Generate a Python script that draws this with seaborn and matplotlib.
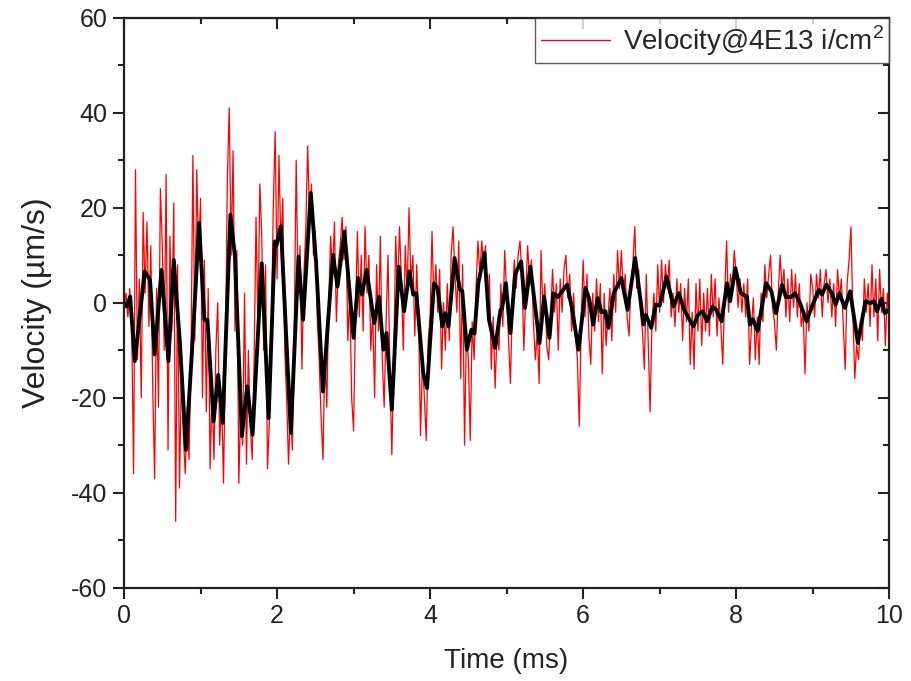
import numpy as np
import pandas as pd
import matplotlib
matplotlib.use("Agg")
import matplotlib.pyplot as plt
import seaborn as sns
from matplotlib.ticker import MultipleLocator

# Raw velocity trace, sampled every 0.025 ms from 0 to 10 ms (um/s)
raw_velocity = [
    -1, 2, -3, 3, -5, -36, 28, -12, 5, -20, 19, 2, 17, -5, 12, -18, -37, 3, -22, 24,
    12, -10, 27, -31, 14, -6, 21, -46, 8, -39, -14, -28, -36, -22, -33, -12, 31, -8, 28, 10,
    22, -20, 9, -23, 3, -35, -18, -33, -10, 0, -30, -20, -38, -12, 26, 41, 10, 32, -6, 11,
    -38, -22, -30, 2, -34, -10, -26, -33, -12, 18, -5, 25, 14, -10, 8, -35, -25, -8, 20, 36,
    5, 31, 12, 22, -10, -20, -34, -22, -31, -5, 30, 2, 12, -14, 6, 15, 33, 18, 25, 10,
    15, -3, -12, -24, -33, -10, -22, 0, 14, 6, 17, -4, 8, 12, 18, 9, 16, -8, 2, -20,
    -27, -2, 15, -3, 10, -6, 16, 2, 10, -10, -2, -20, 8, -6, 14, -12, -22, -4, 10, -15,
    -32, -12, 14, 2, 16, 5, -10, 12, 2, 20, 4, 10, -7, 8, -4, -28, -12, -20, -29, -8,
    -3, 15, 0, 8, -2, 7, -14, 0, -10, 4, -8, 10, 16, 6, -2, 13, -16, 8, -30, -6,
    -12, -29, -4, -12, 3, 13, 6, 13, 8, 12, -2, 6, -14, -3, -18, -6, -10, 4, -5, 11,
    2, -8, -17, 0, 9, 3, 10, 13, 6, -10, 2, 12, 5, 9, -4, -12, -6, -17, 11, -2,
    4, -9, -12, -3, 7, -2, 4, -10, 5, -2, 7, 10, 1, 6, -6, 2, -7, -12, -26, -4,
    9, -3, 6, -7, -13, 2, -6, 5, -4, 4, -15, 2, -9, -3, 3, -8, 6, -2, 11, 3,
    11, 2, 6, -3, -7, 4, 8, 16, 3, 7, -2, -6, -14, 6, -8, -23, -4, 2, -6, 8,
    -2, 9, 0, 8, 3, 9, -3, 2, -5, 5, -2, 4, -8, 3, -4, 5, -13, -2, -14, 4,
    -6, 5, -9, 2, -6, 3, -7, 6, -3, 5, -7, 1, -5, -13, 2, 13, -2, 6, 3, 11,
    6, -1, 5, -2, 4, -3, 5, -13, -5, 1, -12, -3, -13, 2, -4, 8, 1, 6, 10, -1,
    -4, -10, 2, 10, 3, 7, -3, 5, -4, 7, -1, 6, -3, 4, -5, -2, -15, 0, -6, 6,
    3, -3, 6, 1, 7, -3, 4, 7, 0, 5, -3, 4, -5, 7, 1, 5, -5, -14, 4, 9,
    16, -2, -16, -9, -12, -4, -8, 5, -2, 4, -5, 8, -3, 5, -8, 7, -2, 3, -9, 2, -4,
]
raw_time = np.arange(len(raw_velocity)) * 0.025

# Smoothed velocity trace (ms, um/s)
smooth_time = [
    0.00, 0.035, 0.08, 0.14, 0.27, 0.34, 0.40, 0.49, 0.58, 0.65, 0.73, 0.81, 0.91, 0.98,
    1.05, 1.09, 1.17, 1.23, 1.29, 1.39, 1.45, 1.54, 1.61, 1.68, 1.80, 1.89, 1.97, 1.99,
    2.05, 2.18, 2.28, 2.34, 2.44, 2.51, 2.60, 2.73, 2.79, 2.88, 3.00, 3.06, 3.11, 3.17,
    3.27, 3.33, 3.39, 3.43, 3.50, 3.59, 3.66, 3.73, 3.78, 3.82, 3.91, 3.96, 4.05, 4.10,
    4.16, 4.20, 4.24, 4.32, 4.39, 4.42, 4.48, 4.54, 4.58, 4.63, 4.71, 4.77, 4.85, 4.92,
    4.94, 4.99, 5.05, 5.11, 5.14, 5.19, 5.24, 5.31, 5.43, 5.49, 5.56, 5.61, 5.67, 5.79,
    5.85, 5.94, 6.03, 6.08, 6.13, 6.19, 6.24, 6.29, 6.33, 6.40, 6.50, 6.58, 6.68, 6.79,
    6.82, 6.89, 6.95, 7.00, 7.09, 7.18, 7.25, 7.32, 7.44, 7.50, 7.56, 7.62, 7.69, 7.74,
    7.81, 7.88, 7.92, 7.99, 8.06, 8.14, 8.18, 8.22, 8.28, 8.39, 8.46, 8.52, 8.60, 8.65,
    8.72, 8.77, 8.83, 8.92, 8.99, 9.08, 9.12, 9.18, 9.25, 9.30, 9.35, 9.42, 9.49, 9.59,
    9.69, 9.75, 9.80, 9.84, 9.90, 9.94, 10.00,
]
smooth_velocity = [
    0.0, -0.8, 1.3, -12.3, 6.6, 4.8, -10.9, 6.9, -12.3, 9.0, -8.4, -31.0, -4.2, 16.8,
    -3.6, -3.6, -25.0, -15.2, -25.3, 18.5, 9.7, -28.1, -17.6, -27.8, 8.3, -24.3, 12.9, 12.0,
    16.1, -27.4, 9.7, -3.6, 23.1, 8.4, -18.7, 10.1, 3.4, 15.0, -7.4, 5.2, 1.7, 6.9,
    -4.3, 1.3, -9.9, -6.4, -22.5, 7.6, -1.8, 6.6, 1.7, 2.0, -14.8, -18.0, 4.1, 3.0,
    -5.0, -2.2, -5.0, 9.4, 2.7, 2.5, -9.9, -5.7, -6.5, 4.1, 10.5, -3.6, -9.5, -1.5,
    -1.3, 4.1, -6.4, 5.9, 7.0, 8.7, -1.1, 7.6, -8.5, 1.3, -7.4, 2.0, 1.2, 3.8,
    -0.8, -9.9, 3.1, 0.8, -4.6, 1.0, -2.0, -1.8, -5.3, 2.0, 5.2, -1.5, 9.4, -4.6,
    -2.6, -5.3, -0.4, -0.6, 5.5, -0.8, 2.0, -1.5, -5.0, -2.6, -1.8, -3.9, -0.8, -1.5,
    -3.9, 4.1, 0.3, 7.3, 2.0, 1.3, -4.6, -3.5, -6.0, 4.1, 2.4, -2.2, 3.8, 1.2,
    1.2, 2.0, 0.1, -3.9, -0.8, 2.7, 1.7, 3.8, 2.0, -0.4, 2.0, -1.1, 2.4, -8.5,
    0.3, -0.1, 0.3, -1.8, 0.8, -2.2, -1.5,
]

legend_label = "Velocity@4E13 i/cm$^2$"

raw_df = pd.DataFrame({"Time (ms)": raw_time, "Velocity": raw_velocity})
smooth_df = pd.DataFrame({"Time (ms)": smooth_time, "Velocity": smooth_velocity})

sns.set_style("ticks")
plt.rcParams["font.family"] = ["Liberation Sans", "DejaVu Sans"]
plt.rcParams["mathtext.fontset"] = "custom"
plt.rcParams["mathtext.rm"] = "Liberation Sans"
plt.rcParams["axes.unicode_minus"] = False

ink = "#222222"

fig = plt.figure(figsize=(9.12, 6.81), dpi=100)
ax = fig.add_axes([0.136, 0.137, 0.839, 0.837])

sns.lineplot(data=raw_df, x="Time (ms)", y="Velocity", ax=ax, color="#ff0000",
             linewidth=0.9, sort=False, estimator=None, label=legend_label)
sns.lineplot(data=smooth_df, x="Time (ms)", y="Velocity", ax=ax, color="black",
             linewidth=2.8, sort=False, estimator=None, label="_smooth")

ax.set_xlim(0, 10)
ax.set_ylim(-60, 60)
ax.xaxis.set_major_locator(MultipleLocator(2))
ax.xaxis.set_minor_locator(MultipleLocator(1))
ax.yaxis.set_major_locator(MultipleLocator(20))
ax.yaxis.set_minor_locator(MultipleLocator(10))

for side in ["left", "right", "top", "bottom"]:
    ax.spines[side].set_visible(True)
    ax.spines[side].set_linewidth(1.6)
    ax.spines[side].set_color(ink)

ax.tick_params(which="major", direction="out", length=8, width=1.5,
               labelsize=18, colors=ink, pad=4)
ax.tick_params(which="minor", direction="out", length=4.5, width=1.5, colors=ink)

# inward ticks on the top and right frame
top = ax.secondary_xaxis("top")
top.xaxis.set_major_locator(MultipleLocator(2))
top.xaxis.set_minor_locator(MultipleLocator(1))
top.tick_params(which="major", direction="in", length=8, width=1.5, labeltop=False,
                colors=ink)
top.tick_params(which="minor", direction="in", length=4.5, width=1.5, colors=ink)
right = ax.secondary_yaxis("right")
right.yaxis.set_major_locator(MultipleLocator(20))
right.yaxis.set_minor_locator(MultipleLocator(10))
right.tick_params(which="major", direction="in", length=8, width=1.5, labelright=False,
                  colors=ink)
right.tick_params(which="minor", direction="in", length=4.5, width=1.5, colors=ink)

ax.set_xlabel("Time (ms)", fontsize=20, labelpad=14, color=ink)
ax.set_ylabel("Velocity (\u00b5m/s)", fontsize=23, labelpad=14, color=ink)

leg = ax.legend(loc="upper right", fontsize=20, frameon=True, fancybox=False,
                borderaxespad=0.0, handlelength=2.5, borderpad=0.2,
                handletextpad=0.45)
leg.get_frame().set_edgecolor("#333333")
leg.get_frame().set_linewidth(1.0)
for line in leg.get_lines():
    line.set_linewidth(1.0)

fig.savefig("out.png", dpi=100)
